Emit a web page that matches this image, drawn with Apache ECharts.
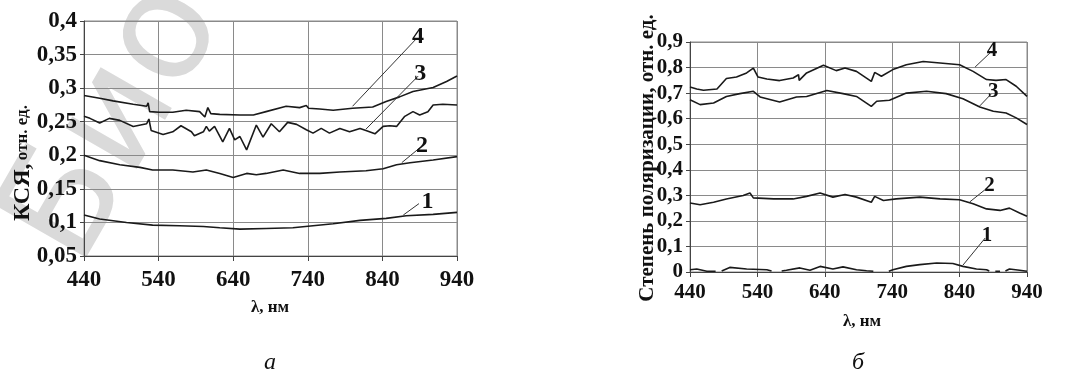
<!DOCTYPE html>
<html>
<head>
<meta charset="utf-8">
<script src="https://cdn.jsdelivr.net/npm/echarts@6/dist/echarts.min.js"></script>
<style>
  html, body { margin: 0; padding: 0; background: #fff; }
  #main { width: 1080px; height: 376px; }
</style>
</head>
<body>
<div id="main"></div>
<script>
// ---- данные: рисунок а (КСЯ) ----
const ksyLam4 = [440, 461, 479, 506, 524, 526, 528, 541, 559, 577, 595, 602, 606, 610, 622, 649, 667, 684, 711, 729, 738, 741, 756, 774, 800, 827, 845, 863, 881, 908, 926, 940];
const ksy4 = [0.289, 0.285, 0.281, 0.276, 0.273, 0.278, 0.265, 0.264, 0.264, 0.267, 0.265, 0.257, 0.271, 0.262, 0.261, 0.260, 0.260, 0.265, 0.273, 0.271, 0.274, 0.270, 0.269, 0.267, 0.270, 0.272, 0.280, 0.287, 0.295, 0.301, 0.310, 0.318];

const ksyLam3 = [440, 448, 461, 474, 488, 506, 524, 527, 530, 546, 559, 570, 584, 588, 600, 604, 608, 615, 626, 635, 642, 649, 658, 671, 680, 691, 702, 713, 725, 738, 747, 758, 769, 783, 796, 810, 818, 830, 841, 850, 859, 870, 881, 890, 901, 908, 921, 940];
const ksy3 = [0.258, 0.255, 0.248, 0.255, 0.252, 0.243, 0.247, 0.254, 0.237, 0.231, 0.235, 0.244, 0.235, 0.229, 0.235, 0.243, 0.236, 0.243, 0.220, 0.240, 0.223, 0.228, 0.208, 0.245, 0.227, 0.247, 0.235, 0.249, 0.246, 0.238, 0.233, 0.240, 0.233, 0.240, 0.235, 0.240, 0.237, 0.232, 0.243, 0.244, 0.243, 0.258, 0.265, 0.260, 0.265, 0.275, 0.276, 0.275];

const ksyLam2 = [440, 461, 488, 515, 532, 559, 586, 604, 622, 640, 658, 671, 684, 707, 729, 756, 783, 818, 841, 859, 877, 908, 940];
const ksy2 = [0.200, 0.192, 0.186, 0.182, 0.178, 0.178, 0.175, 0.178, 0.173, 0.167, 0.173, 0.171, 0.173, 0.178, 0.173, 0.173, 0.175, 0.177, 0.180, 0.186, 0.189, 0.193, 0.198];

const ksyLam1 = [440, 461, 497, 532, 568, 600, 622, 649, 684, 720, 747, 774, 810, 845, 872, 908, 940];
const ksy1 = [0.111, 0.105, 0.100, 0.096, 0.095, 0.094, 0.092, 0.090, 0.091, 0.092, 0.095, 0.098, 0.103, 0.106, 0.110, 0.112, 0.115];

// ---- данные: рисунок б (степень поляризации) ----
const polLam4 = [440, 450, 460, 480, 494, 509, 524, 534, 541, 554, 573, 593, 601, 602, 613, 638, 657, 670, 687, 709, 714, 724, 741, 761, 786, 811, 840, 860, 880, 894, 909, 924, 940];
const pol4 = [0.724, 0.716, 0.711, 0.716, 0.757, 0.763, 0.779, 0.798, 0.763, 0.755, 0.749, 0.759, 0.772, 0.750, 0.779, 0.809, 0.788, 0.798, 0.785, 0.746, 0.781, 0.766, 0.792, 0.811, 0.824, 0.818, 0.811, 0.785, 0.753, 0.750, 0.753, 0.727, 0.687];

const polLam3 = [440, 455, 475, 494, 514, 534, 544, 573, 598, 613, 643, 667, 687, 709, 717, 736, 761, 791, 820, 845, 870, 890, 909, 924, 940];
const pol3 = [0.674, 0.655, 0.661, 0.687, 0.698, 0.707, 0.685, 0.665, 0.685, 0.687, 0.710, 0.698, 0.687, 0.648, 0.668, 0.672, 0.700, 0.707, 0.698, 0.678, 0.646, 0.629, 0.622, 0.603, 0.577];

const polLam2 = [440, 455, 475, 494, 519, 529, 534, 564, 593, 613, 633, 652, 670, 687, 709, 714, 727, 746, 781, 811, 840, 860, 880, 900, 914, 929, 940];
const pol2 = [0.270, 0.263, 0.273, 0.286, 0.299, 0.309, 0.290, 0.286, 0.286, 0.296, 0.309, 0.293, 0.303, 0.293, 0.273, 0.296, 0.280, 0.286, 0.293, 0.286, 0.283, 0.267, 0.247, 0.241, 0.250, 0.231, 0.218];

// кривая 1 уходит ниже нуля — там разрывы (null)
const polLam1 = [440, 450, 465, 478, 482, 487, 499, 524, 554, 561, 564, 576, 583, 603, 618, 633, 652, 667, 687, 702, 712, 716, 735, 741, 761, 781, 806, 830, 845, 865, 880, 884, 886, 893, 900, 903, 908, 914, 929, 940];
const pol1 = [0.009, 0.012, 0.003, 0.003, null, 0.004, 0.018, 0.012, 0.009, 0.004, null, 0.004, 0.007, 0.016, 0.007, 0.022, 0.012, 0.020, 0.009, 0.005, 0.003, null, 0.003, 0.009, 0.022, 0.029, 0.035, 0.033, 0.022, 0.012, 0.009, 0.004, null, 0.003, 0.003, null, 0.004, 0.012, 0.007, 0.003];

// выноски с номерами кривых (в координатах данных)
const ksyCallouts = [
  [[800, 0.273], [885, 0.373], '4'],
  [[818, 0.239], [888, 0.318], '3'],
  [[866, 0.189], [890, 0.211], '2'],
  [[868, 0.111], [889, 0.128], '1']
];
const polCallouts = [
  [[863, 0.802], [885, 0.857], '4'],
  [[870, 0.650], [887, 0.697], '3'],
  [[855, 0.274], [881, 0.329], '2'],
  [[845, 0.027], [878, 0.133], '1']
];

const serif = 'Liberation Serif';

function pairs(xs, ys) {
  return xs.map((x, i) => [x, ys[i]]);
}

function comma(v) {
  return String(+v.toFixed(2)).replace('.', ',');
}

function makeSeries(name, xs, ys, idx, callout, fs) {
  return {
    name: name,
    type: 'line',
    xAxisIndex: idx,
    yAxisIndex: idx,
    data: pairs(xs, ys),
    showSymbol: false,
    connectNulls: false,
    silent: true,
    lineStyle: { color: '#1a1a1a', width: 1.6 },
    markLine: {
      silent: true,
      symbol: 'none',
      animation: false,
      lineStyle: { color: '#333', width: 1, type: 'solid' },
      label: {
        show: true,
        position: 'end',
        formatter: callout[2],
        distance: 3,
        color: '#111',
        fontFamily: serif,
        fontWeight: 'bold',
        fontSize: fs
      },
      data: [[{ coord: callout[0] }, { coord: callout[1] }]]
    }
  };
}

function xAxisCfg(idx, fs, margin) {
  return {
    type: 'value',
    gridIndex: idx,
    min: 440,
    max: 940,
    interval: 100,
    axisLine: { show: true, lineStyle: { color: '#444', width: 1 } },
    axisTick: { show: true, length: 5, lineStyle: { color: '#444' } },
    splitLine: { show: true, lineStyle: { color: '#8a8a8a', width: 1 } },
    axisLabel: {
      margin: margin,
      color: '#111',
      fontFamily: serif,
      fontWeight: 'bold',
      fontSize: fs,
      formatter: v => String(v)
    }
  };
}

function yAxisCfg(idx, min, max, step, fs) {
  return {
    type: 'value',
    gridIndex: idx,
    min: min,
    max: max,
    interval: step,
    axisLine: { show: true, lineStyle: { color: '#444', width: 1 } },
    axisTick: { show: true, length: 4, lineStyle: { color: '#444' } },
    splitLine: { show: true, lineStyle: { color: '#8a8a8a', width: 1 } },
    axisLabel: {
      margin: 7,
      color: '#111',
      fontFamily: serif,
      fontWeight: 'bold',
      fontSize: fs,
      formatter: comma
    }
  };
}

const chart = echarts.init(document.getElementById('main'));

const option = {
  backgroundColor: '#fff',
  animation: false,
  grid: [
    { left: 84, top: 21, width: 373, height: 235, show: true, borderColor: '#8a8a8a', borderWidth: 1 },
    { left: 690, top: 42, width: 337, height: 230, show: true, borderColor: '#8a8a8a', borderWidth: 1 }
  ],
  xAxis: [xAxisCfg(0, 23, 13), xAxisCfg(1, 21, 10)],
  yAxis: [yAxisCfg(0, 0.05, 0.4, 0.05, 23), yAxisCfg(1, 0, 0.9, 0.1, 21)],
  graphic: [
    // бледный водяной знак
    {
      type: 'text', z: -10, left: -20, top: -40, rotation: 1.05,
      style: { text: 'Био', fill: '#dadada', font: '150px "DejaVu Sans"' }
    },
    // подписи осей
    {
      type: 'text', x: 23, y: 163, rotation: Math.PI / 2,
      style: {
        text: '{a|КСЯ,} {b|отн. ед.}', align: 'center', verticalAlign: 'middle',
        rich: {
          a: { fontFamily: serif, fontWeight: 'bold', fontSize: 24, fill: '#111' },
          b: { fontFamily: serif, fontWeight: 'bold', fontSize: 17, fill: '#111' }
        }
      }
    },
    {
      type: 'text', x: 648, y: 158, rotation: Math.PI / 2,
      style: {
        text: 'Степень поляризации, отн. ед.', align: 'center', verticalAlign: 'middle',
        fontFamily: serif, fontWeight: 'bold', fontSize: 21, fill: '#111'
      }
    },
    {
      type: 'text', x: 270, y: 308,
      style: { text: 'λ, нм', align: 'center', verticalAlign: 'middle', fontFamily: serif, fontWeight: 'bold', fontSize: 17, fill: '#111' }
    },
    {
      type: 'text', x: 862, y: 322,
      style: { text: 'λ, нм', align: 'center', verticalAlign: 'middle', fontFamily: serif, fontWeight: 'bold', fontSize: 17, fill: '#111' }
    },
    {
      type: 'text', x: 270, y: 363,
      style: { text: 'а', align: 'center', verticalAlign: 'middle', fontFamily: serif, fontStyle: 'italic', fontSize: 24, fill: '#111' }
    },
    {
      type: 'text', x: 858, y: 363,
      style: { text: 'б', align: 'center', verticalAlign: 'middle', fontFamily: serif, fontStyle: 'italic', fontSize: 24, fill: '#111' }
    }
  ],
  series: [
    makeSeries('КСЯ 4', ksyLam4, ksy4, 0, ksyCallouts[0], 24),
    makeSeries('КСЯ 3', ksyLam3, ksy3, 0, ksyCallouts[1], 24),
    makeSeries('КСЯ 2', ksyLam2, ksy2, 0, ksyCallouts[2], 24),
    makeSeries('КСЯ 1', ksyLam1, ksy1, 0, ksyCallouts[3], 24),
    makeSeries('P 4', polLam4, pol4, 1, polCallouts[0], 21),
    makeSeries('P 3', polLam3, pol3, 1, polCallouts[1], 21),
    makeSeries('P 2', polLam2, pol2, 1, polCallouts[2], 21),
    makeSeries('P 1', polLam1, pol1, 1, polCallouts[3], 21)
  ]
};

chart.setOption(option);
</script>
</body>
</html>
